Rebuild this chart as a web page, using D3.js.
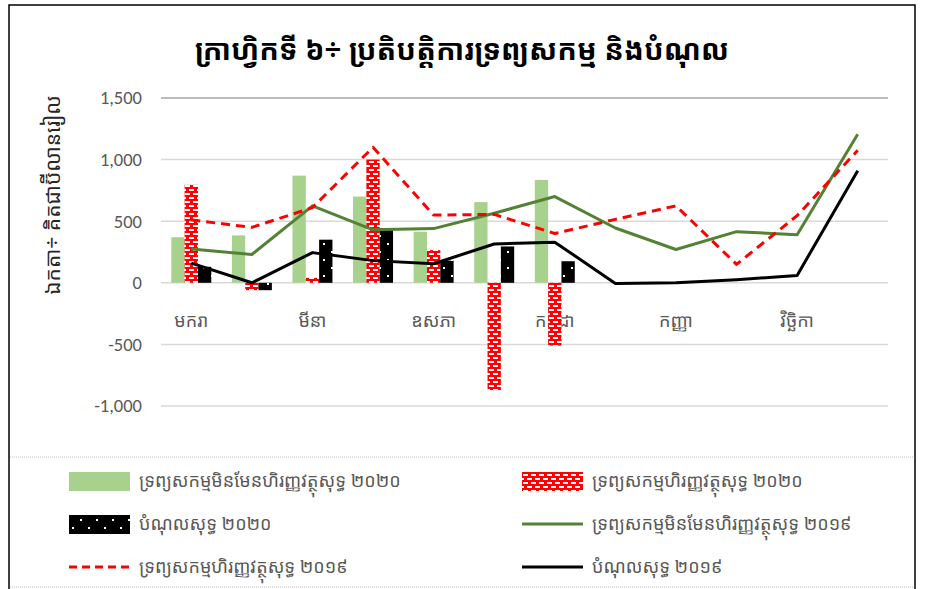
<!DOCTYPE html>
<html>
<head>
<meta charset="utf-8">
<script src="https://d3js.org/d3.v7.min.js"></script>
<style>
  body { margin: 0; background: #fff; }
  svg text { font-family: "Khmer OS", "Noto Sans Khmer", "Noto Sans", "DejaVu Sans", sans-serif; }
</style>
</head>
<body>
<svg id="chart" width="925" height="589"></svg>
<script>
// months (only every other one is labelled in the chart)
var months = ["មករា", "កុម្ភៈ", "មីនា", "មេសា", "ឧសភា", "មិថុនា", "កក្កដា", "សីហា", "កញ្ញា", "តុលា", "វិច្ឆិកា", "ធ្នូ"];

// 2020 bars (Jan - Jul)
var nonFinAssets2020 = [370, 385, 870, 700, 415, 655, 835];
var finAssets2020    = [795, -60, 40, 1000, 265, -870, -510];
var liabilities2020  = [130, -60, 350, 445, 180, 295, 175];

// 2019 lines (Jan - Dec)
var nonFinAssets2019 = [275, 230, 625, 430, 440, 565, 700, 445, 270, 415, 390, 1205];
var finAssets2019    = [510, 450, 610, 1100, 550, 555, 400, 515, 625, 150, 545, 1075];
var liabilities2019  = [160, 0, 245, 180, 155, 315, 330, -5, 0, 25, 60, 910];

var yTicks = [-1000, -500, 0, 500, 1000, 1500];

var title = "ក្រាហ្វិកទី ៦÷ ប្រតិបត្តិការទ្រព្យសកម្ម និងបំណុល";
var yTitle = "ឯកតា÷ គិតជាប៊ីលានរៀល";
var legendNames = [
  "ទ្រព្យសកម្មមិនមែនហិរញ្ញវត្ថុសុទ្ធ ២០២០",
  "ទ្រព្យសកម្មហិរញ្ញវត្ថុសុទ្ធ ២០២០",
  "បំណុលសុទ្ធ ២០២០",
  "ទ្រព្យសកម្មមិនមែនហិរញ្ញវត្ថុសុទ្ធ ២០១៩",
  "ទ្រព្យសកម្មហិរញ្ញវត្ថុសុទ្ធ ២០១៩",
  "បំណុលសុទ្ធ ២០១៩"
];

var svg = d3.select("#chart");
var defs = svg.append("defs");

// red brick pattern
var pRed = defs.append("pattern").attr("id", "brick").attr("patternUnits", "userSpaceOnUse")
  .attr("width", 8).attr("height", 8);
pRed.append("rect").attr("width", 8).attr("height", 8).attr("fill", "#ff0000");
pRed.append("rect").attr("x", 1).attr("y", 1).attr("width", 5).attr("height", 2).attr("fill", "#fff");
pRed.append("rect").attr("x", -3).attr("y", 5).attr("width", 5).attr("height", 2).attr("fill", "#fff");
pRed.append("rect").attr("x", 5).attr("y", 5).attr("width", 5).attr("height", 2).attr("fill", "#fff");

// black with sparse white dots
var pBlk = defs.append("pattern").attr("id", "dots").attr("patternUnits", "userSpaceOnUse")
  .attr("width", 16).attr("height", 16);
pBlk.append("rect").attr("width", 16).attr("height", 16).attr("fill", "#000");
pBlk.append("rect").attr("x", 3).attr("y", 3).attr("width", 2).attr("height", 2).attr("fill", "#fff");
pBlk.append("rect").attr("x", 11).attr("y", 11).attr("width", 2).attr("height", 2).attr("fill", "#fff");

// outer frame
svg.append("rect").attr("x", 9).attr("y", 5).attr("width", 906).attr("height", 600)
  .attr("fill", "none").attr("stroke", "#000").attr("stroke-width", 1.5);

svg.append("text").attr("x", 462).attr("y", 60).attr("text-anchor", "middle")
  .attr("font-size", 29).attr("font-weight", "bold").attr("fill", "#000").text(title);

var left = 161, right = 888;
var x = d3.scaleBand().domain(months).range([left, right]);
var y = d3.scaleLinear().domain([-1000, 1500]).range([406, 98]);

// gridlines
svg.append("g").selectAll("line").data(yTicks).join("line")
  .attr("x1", left).attr("x2", right)
  .attr("y1", function (d) { return y(d); }).attr("y2", function (d) { return y(d); })
  .attr("stroke", function (d) { return d === 1500 ? "#a6a6a6" : "#d9d9d9"; })
  .attr("stroke-width", 1.5);

// y axis labels (plain hyphen for negatives, like the original)
var fmt = d3.format(",");
var yAxis = d3.axisLeft(y).tickValues(yTicks)
  .tickFormat(function (d) { return fmt(d).replace("\u2212", "-"); })
  .tickSize(0).tickPadding(0);
var ya = svg.append("g").attr("transform", "translate(142,0)").call(yAxis);
ya.select(".domain").remove();
ya.selectAll("text").attr("font-size", 18.5).attr("fill", "#595959")
  .style("font-family", "Calibri, Carlito, 'Open Sans', 'Liberation Sans', sans-serif");

svg.append("text").attr("transform", "translate(60,195) rotate(-90)")
  .attr("text-anchor", "middle").attr("font-size", 21).attr("fill", "#262626").text(yTitle);

// x labels (every other month)
svg.append("g").selectAll("text").data(months.filter(function (d, i) { return i % 2 === 0; })).join("text")
  .attr("x", function (d) { return x(d) + x.bandwidth() / 2; })
  .attr("y", 327).attr("text-anchor", "middle").attr("font-size", 18).attr("fill", "#595959")
  .text(function (d) { return d; });

// bars
var barSeries = [
  { values: nonFinAssets2020, fill: "#a9d18e" },
  { values: finAssets2020, fill: "url(#brick)" },
  { values: liabilities2020, fill: "url(#dots)" }
];
var x1 = d3.scaleBand().domain([0, 1, 2]).range([0, x.bandwidth() * 0.66]);
var off = (x.bandwidth() - x1.range()[1]) / 2;

barSeries.forEach(function (s, si) {
  svg.append("g").selectAll("rect").data(s.values).join("rect")
    .attr("x", function (d, i) { return x(months[i]) + off + x1(si); })
    .attr("width", x1.bandwidth())
    .attr("y", function (d) { return y(Math.max(0, d)); })
    .attr("height", function (d) { return Math.abs(y(d) - y(0)); })
    .attr("fill", s.fill);
});

// lines
var line = d3.line()
  .x(function (d, i) { return x(months[i]) + x.bandwidth() / 2; })
  .y(function (d) { return y(d); });

var lineSeries = [
  { values: nonFinAssets2019, stroke: "#548235", dash: null },
  { values: finAssets2019, stroke: "#ff0000", dash: "9,6" },
  { values: liabilities2019, stroke: "#000", dash: null }
];
lineSeries.forEach(function (s) {
  svg.append("path").datum(s.values).attr("d", line)
    .attr("fill", "none").attr("stroke", s.stroke).attr("stroke-width", 3)
    .attr("stroke-dasharray", s.dash).attr("stroke-linejoin", "round");
});

// legend
svg.append("line").attr("x1", 10).attr("x2", 914).attr("y1", 457).attr("y2", 457)
  .attr("stroke", "#bfbfbf").attr("stroke-dasharray", "1,1");
svg.append("line").attr("x1", 10).attr("x2", 914).attr("y1", 587).attr("y2", 587)
  .attr("stroke", "#bfbfbf").attr("stroke-dasharray", "1,1");

var legendItems = [
  { type: "rect", fill: "#a9d18e" },
  { type: "rect", fill: "url(#brick)" },
  { type: "rect", fill: "url(#dots)" },
  { type: "line", stroke: "#548235", dash: null },
  { type: "line", stroke: "#ff0000", dash: "8,5" },
  { type: "line", stroke: "#000", dash: null }
];
legendItems.forEach(function (it, i) {
  var gx = i % 2 === 0 ? 69 : 522;
  var gy = 481 + Math.floor(i / 2) * 43;
  var g = svg.append("g").attr("transform", "translate(" + gx + "," + gy + ")");
  if (it.type === "rect") {
    g.append("rect").attr("x", 0).attr("y", -9).attr("width", 61).attr("height", 19).attr("fill", it.fill);
  } else {
    g.append("line").attr("x1", 0).attr("x2", 61).attr("y1", 0).attr("y2", 0)
      .attr("stroke", it.stroke).attr("stroke-width", 3).attr("stroke-dasharray", it.dash);
  }
  g.append("text").attr("x", 70).attr("y", 6).attr("font-size", 18).attr("fill", "#595959")
    .text(legendNames[i]);
});
</script>
</body>
</html>
